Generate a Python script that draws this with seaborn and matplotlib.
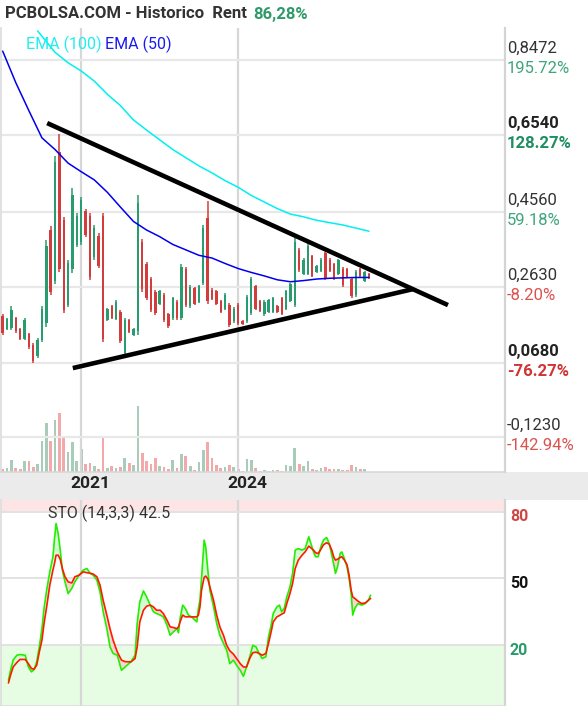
import numpy as np
import pandas as pd
import matplotlib
matplotlib.use("Agg")
import matplotlib.pyplot as plt
import matplotlib.transforms as mtransforms
from matplotlib.patches import Rectangle
import seaborn as sns

# ---------------- data ----------------
months = pd.period_range("2019-07", "2026-07", freq="M")   # monthly candles

open_ = [.190, .156, .158, .183, .155, .131, .142, .115, .086, .127,
         .170, .410, .280, .610, .435, .218, .310, .372, .380, .460,
         .445, .340, .395, .445, .179, .214, .182, .200, .095, .178,
         .140, .150, .380, .322, .284, .250, .220, .244, .193, .183,
         .226, .184, .310, .214, .260, .226, .275, .440, .257, .252,
         .227, .208, .218, .175, .218, .177, .175, .197, .265, .227,
         .193, .200, .200, .214, .234, .207, .228, .218, .358, .298,
         .298, .342, .302, .305, .350, .334, .322, .298, .311, .309,
         .285, .242, .309, .279, .298]
high = [.194, .184, .215, .186, .158, .184, .145, .120, .132, .215,
        .384, .420, .600, .657, .444, .333, .518, .454, .495, .464,
        .454, .423, .402, .454, .210, .217, .230, .204, .184, .181,
        .158, .500, .387, .328, .289, .256, .256, .248, .197, .238,
        .230, .323, .315, .269, .264, .269, .423, .485, .261, .256,
        .230, .248, .222, .212, .222, .179, .243, .289, .269, .230,
        .230, .233, .238, .217, .238, .256, .274, .390, .364, .338,
        .377, .346, .320, .338, .354, .338, .325, .336, .315, .312,
        .289, .307, .312, .305, .300]
low = [.140, .153, .153, .145, .127, .127, .104, .068, .081, .122,
       .161, .243, .271, .302, .197, .212, .300, .366, .372, .392,
       .282, .333, .312, .122, .176, .181, .179, .120, .091, .145,
       .138, .140, .251, .230, .199, .192, .217, .174, .158, .179,
       .179, .179, .212, .210, .217, .222, .269, .220, .230, .217,
       .197, .204, .161, .171, .166, .166, .171, .192, .204, .199,
       .189, .197, .197, .197, .192, .204, .225, .212, .302, .294,
       .294, .289, .300, .302, .282, .302, .282, .294, .264, .287,
       .235, .238, .289, .276, .284]
close = [.145, .180, .205, .150, .131, .178, .108, .074, .127, .208,
         .370, .250, .585, .310, .205, .325, .500, .445, .488, .398,
         .290, .415, .318, .130, .206, .184, .226, .124, .178, .148,
         .155, .480, .258, .236, .205, .196, .252, .178, .162, .234,
         .183, .316, .217, .264, .221, .265, .415, .228, .233, .221,
         .200, .244, .165, .208, .170, .168, .238, .284, .208, .202,
         .226, .230, .234, .200, .195, .252, .270, .380, .306, .334,
         .370, .293, .317, .334, .286, .305, .286, .332, .268, .290,
         .240, .303, .292, .301, .2865]
volume = [10, 11, 35, 11, 8, 32, 32, 14, 23, 92, 146, 92, 155, 177, 107, 59, 89,
          32, 68, 23, 26, 17, 8, 107, 11, 17, 11, 14, 41, 26, 20, 197, 56, 32,
          23, 41, 17, 14, 8, 35, 11, 53, 47, 17, 5, 29, 65, 89, 41, 20, 11, 14,
          20, 14, 8, 3, 38, 35, 11, 3, 5, 3, 5, 5, 3, 20, 17, 71, 23, 17, 32,
          8, 5, 11, 14, 8, 8, 8, 5, 5, 20, 14, 8, 8]

ema50 = [0.870, 0.789, 0.717, 0.647, 0.617, 0.582, 0.560, 0.539, 0.507, 0.469,
         0.432, 0.410, 0.393, 0.373, 0.359, 0.345, 0.338, 0.324, 0.311, 0.301,
         0.292, 0.282, 0.277, 0.280, 0.284, 0.286, 0.287, 0.288, 0.288]
ema50_months = months[0::3]
ema100 = [0.922, 0.867, 0.840, 0.819, 0.793, 0.759, 0.730, 0.693, 0.667, 0.642,
          0.617, 0.596, 0.575, 0.557, 0.537, 0.520, 0.499, 0.482, 0.465, 0.451,
          0.444, 0.435, 0.429, 0.423, 0.415, 0.407]
ema100_months = months[[8] + list(range(12, 85, 3))]

# hand-drawn trend lines (date as fractional year, price)
trend_upper = [(2020.35, 0.685), (2028.01, 0.217)]
trend_lower = [(2020.84, 0.055), (2027.34, 0.258)]

price_ticks = [0.8472, 0.6540, 0.4560, 0.2630, 0.0680, -0.1230]
price_labels = ["0,8472", "0,6540", "0,4560", "0,2630", "0,0680", "-0,1230"]
pct_labels = ["195.72%", "128.27%", "59.18%", "-8.20%", "-76.27%", "-142.94%"]
bold_ticks = [False, True, False, False, True, False]
year_ticks = [2021, 2024]

# stochastic (14,3,3)
sto_t = [2019.61, 2019.65, 2019.70, 2019.77, 2019.83, 2019.93, 2019.99, 2020.05, 2020.10, 2020.15,
         2020.20, 2020.25, 2020.29, 2020.34, 2020.40, 2020.46, 2020.49, 2020.52, 2020.56, 2020.60,
         2020.64, 2020.69, 2020.75, 2020.82, 2020.88, 2020.96, 2021.04, 2021.11, 2021.17, 2021.23,
         2021.30, 2021.36, 2021.42, 2021.49, 2021.55, 2021.61, 2021.69, 2021.77, 2021.84, 2021.95,
         2022.03, 2022.07, 2022.12, 2022.19, 2022.25, 2022.32, 2022.38, 2022.44, 2022.51, 2022.57,
         2022.64, 2022.70, 2022.76, 2022.83, 2022.86, 2022.89, 2022.94, 2022.99, 2023.05, 2023.11,
         2023.21, 2023.24, 2023.27, 2023.30, 2023.35, 2023.38, 2023.42, 2023.46, 2023.53, 2023.59,
         2023.65, 2023.72, 2023.78, 2023.84, 2023.91, 2023.97, 2024.04, 2024.10, 2024.16, 2024.23,
         2024.28, 2024.34, 2024.40, 2024.46, 2024.53, 2024.58, 2024.63, 2024.67, 2024.74, 2024.79,
         2024.83, 2024.88, 2024.93, 2024.99, 2025.04, 2025.09, 2025.15, 2025.22, 2025.28, 2025.31,
         2025.35, 2025.39, 2025.44, 2025.48, 2025.53, 2025.58, 2025.63, 2025.69, 2025.74, 2025.79,
         2025.83, 2025.86, 2025.90, 2025.95, 2025.98, 2026.03, 2026.08, 2026.12, 2026.16, 2026.19,
         2026.23, 2026.29, 2026.36, 2026.43, 2026.49, 2026.53]
sto_k = [4.1, 8.6, 13.2, 15.4, 15.7, 15.4, 10.1, 7.9, 8.9, 12.4,
         19.2, 27.4, 36.5, 44.7, 53.0, 59.8, 68.0, 74.8, 70.3, 62.8,
         53.8, 48.5, 43.2, 45.5, 48.5, 51.5, 53.8, 54.5, 52.3, 51.5,
         49.2, 44.0, 35.0, 27.4, 19.2, 16.2, 15.4, 8.6, 10.1, 12.4,
         15.4, 29.7, 39.5, 44.4, 41.7, 38.0, 35.0, 34.2, 33.5, 32.7,
         28.9, 24.4, 25.9, 27.4, 25.5, 32.0, 38.0, 36.5, 33.5, 32.7,
         30.4, 36.5, 40.2, 50.0, 67.3, 64.3, 53.8, 44.7, 37.2, 29.7,
         24.4, 20.7, 17.7, 11.6, 13.2, 10.9, 8.6, 5.9, 10.1, 15.4,
         19.9, 19.2, 16.2, 13.9, 14.7, 23.7, 28.9, 34.2, 37.2, 38.0,
         35.0, 36.5, 41.7, 46.2, 52.3, 62.8, 63.5, 62.8, 63.5, 65.8,
         68.8, 65.8, 62.0, 59.8, 59.8, 64.3, 67.3, 68.5, 65.8, 60.5,
         56.0, 52.3, 55.3, 61.3, 62.0, 59.0, 55.3, 50.0, 43.2, 33.5,
         36.5, 38.7, 38.0, 38.7, 40.2, 42.5]
sto_d = [2.9, 6.4, 10.1, 12.1, 13.5, 13.5, 11.6, 9.4, 9.1, 10.9,
         16.9, 22.2, 29.7, 37.2, 47.0, 53.8, 56.8, 60.5, 60.5, 58.6,
         54.5, 50.8, 48.5, 48.0, 50.8, 51.5, 53.0, 52.6, 52.4, 52.0,
         50.8, 47.0, 40.2, 33.5, 27.4, 22.2, 16.9, 13.2, 12.5, 12.4,
         13.9, 19.2, 30.4, 35.7, 37.5, 38.0, 37.2, 35.7, 35.7, 34.2,
         31.2, 28.2, 27.9, 27.4, 28.2, 30.4, 33.5, 32.7, 32.7, 32.7,
         32.7, 33.5, 37.2, 44.7, 50.5, 51.1, 49.8, 46.2, 40.2, 33.5,
         28.2, 24.4, 19.9, 17.4, 15.9, 13.9, 11.6, 10.1, 10.1, 14.4,
         16.5, 16.8, 16.2, 15.4, 16.2, 20.7, 25.9, 30.4, 32.7, 33.3,
         33.9, 34.5, 38.7, 43.2, 47.7, 54.5, 58.3, 60.5, 62.0, 63.1,
         64.6, 63.8, 62.8, 61.6, 61.3, 63.1, 65.2, 66.1, 65.5, 62.8,
         59.5, 58.3, 58.7, 59.5, 59.8, 58.3, 56.3, 51.5, 44.7, 41.7,
         41.0, 39.8, 38.7, 39.0, 40.2, 41.0]
sto_levels = [80, 50, 20]
sto_level_colors = ["#d24545", "#111111", "#2a9a6c"]

# ---------------- styling ----------------
sns.set_theme(style="white")
plt.rcParams['font.family'] = ['Roboto', 'DejaVu Sans']

GREEN = "#289c6e"
RED = "#d33c3c"
VGREEN = "#a9ccba"
VRED = "#f3a9a9"
GRID_H = "#e8e8e8"
GRID_V = "#d7d7d7"

W, H = 588, 706
def fx(px): return px / W
def fy(py): return 1 - py / H

fig = plt.figure(figsize=(W / 100, H / 100), dpi=100)
fig.patch.set_facecolor("white")

# gray date band
fig.add_artist(Rectangle((0, fy(500)), 1, fy(472) - fy(500), transform=fig.transFigure,
                         facecolor="#ebebeb", edgecolor="none", zorder=0))

rect_price = [fx(1), fy(472), fx(505) - fx(1), fy(28) - fy(472)]
vax = fig.add_axes(rect_price)
ax = fig.add_axes(rect_price)
vax.set_zorder(0)
ax.set_zorder(1)
ax.patch.set_alpha(0)
axs = fig.add_axes([fx(1), fy(706), fx(505) - fx(1), fy(500) - fy(706)])

xmin, xmax = 2019.4675, 2029.10
t = np.array(months.year + (months.month - 1) / 12.0, dtype=float)

# ---- volume ----
vt = t[:len(volume)]
vcol = [VGREEN if c >= o else VRED for o, c in zip(open_[:len(volume)], close[:len(volume)])]
vax.bar(vt, volume, width=0.052, color=vcol, linewidth=0)
vax.set_ylim(0, max(volume) * 6.76)
vax.set_xlim(xmin, xmax)
vax.axis("off")

# ---- price panel ----
ax.set_xlim(xmin, xmax)
ax.set_ylim(-0.2122, 0.9295)
ax.set_yticks(price_ticks)
ax.set_xticks(year_ticks)
ax.grid(axis="y", color=GRID_H, lw=1.6)
ax.grid(axis="x", color=GRID_V, lw=1.6)
ax.tick_params(length=0, labelleft=False, labelbottom=False)
ax.spines["top"].set_visible(False)
ax.spines["left"].set_color("#dddddd")
ax.spines["right"].set_color("#d4d4d4")
ax.spines["right"].set_linewidth(1.6)
ax.spines["bottom"].set_color("#d8d8d8")
ax.spines["bottom"].set_linewidth(1.2)

ccol = [GREEN if c >= o else RED for o, c in zip(open_, close)]
ax.vlines(t, low, high, colors=ccol, lw=1.1, zorder=3)
body_lo = np.minimum(open_, close)
body_h = np.abs(np.array(close) - np.array(open_))
ax.bar(t, body_h, bottom=body_lo, width=0.046, color=ccol, linewidth=0, zorder=3)

e50 = pd.DataFrame({"t": ema50_months.year + (ema50_months.month - 1) / 12.0, "v": ema50})
e100 = pd.DataFrame({"t": ema100_months.year + (ema100_months.month - 1) / 12.0, "v": ema100})
sns.lineplot(data=e100, x="t", y="v", ax=ax, color="#00f0f0", lw=1.1, errorbar=None, zorder=4)
sns.lineplot(data=e50, x="t", y="v", ax=ax, color="#0000ee", lw=1.1, errorbar=None, zorder=4)
ax.set_xlabel("")
ax.set_ylabel("")

for seg in (trend_upper, trend_lower):
    ax.plot([seg[0][0], seg[1][0]], [seg[0][1], seg[1][1]], color="black", lw=3.3,
            solid_capstyle="butt", zorder=5)

trans_r = mtransforms.blended_transform_factory(ax.transAxes, ax.transData)
for v, lab, pc, b in zip(price_ticks, price_labels, pct_labels, bold_ticks):
    pos = not pc.startswith("-")
    if b:
        pcol = "#1e8f60" if pos else "#cf3535"
        lcol = "#222222"
    else:
        pcol = "#3ea67b" if pos else "#d9534f"
        lcol = "#333333"
    up = mtransforms.offset_copy(trans_r, fig=fig, x=2, y=12, units="dots")
    dn = mtransforms.offset_copy(trans_r, fig=fig, x=2, y=-8, units="dots")
    ax.text(1, v, lab, transform=up, ha="left", va="center", fontsize=12,
            color=lcol, fontweight="bold" if b else "normal")
    ax.text(1, v, pc, transform=dn, ha="left", va="center", fontsize=12,
            color=pcol, fontweight="bold" if b else "normal")

# year labels in the date band
trans_y = mtransforms.blended_transform_factory(ax.transData, fig.transFigure)
trans_y = mtransforms.offset_copy(trans_y, fig=fig, x=9, y=0, units="dots")
for yr in year_ticks:
    ax.text(yr, fy(484), str(yr), transform=trans_y, ha="center", va="center",
            fontsize=12.5, fontweight="bold", color="#222222")

# header + legend
fig.text(fx(5), fy(14), "PCBOLSA.COM - Historico  Rent", ha="left", va="center",
         fontsize=12, fontweight="bold", color="#333333")
fig.text(fx(253), fy(14), "86,28%", ha="left", va="center", fontsize=12,
         fontweight="bold", color="#2e9a6a")
fig.text(fx(26), fy(44), "EMA (100)", ha="left", va="center", fontsize=11.5, color="#22eeee")
fig.text(fx(105), fy(44), "EMA (50)", ha="left", va="center", fontsize=11.5, color="#1a1aee")

# ---------------- stochastic panel ----------------
axs.set_xlim(xmin, xmax)
axs.set_ylim(-7.5, 85.4)
axs.axhspan(80, 100, color="#fde5e5", lw=0, zorder=0.2)
axs.axhspan(-20, 20, color="#e7fde3", lw=0, zorder=0.2)
axs.set_yticks(sto_levels)
axs.set_xticks(year_ticks)
axs.grid(axis="y", color="#e2e2e2", lw=1.4)
axs.grid(axis="x", color=GRID_V, lw=1.6)
axs.tick_params(length=0, labelleft=False, labelbottom=False)
axs.spines["top"].set_visible(False)
axs.spines["left"].set_color("#dddddd")
axs.spines["right"].set_color("#d4d4d4")
axs.spines["right"].set_linewidth(1.6)
axs.spines["bottom"].set_color("#dddddd")

st = np.array(sto_t)
k = np.array(sto_k)
d = np.array(sto_d)
axs.fill_between(st, k, d, where=k >= d, interpolate=True, color="#d2fcd2", lw=0, zorder=2)
axs.fill_between(st, k, d, where=k < d, interpolate=True, color="#fbd3d3", lw=0, zorder=2)
sdf = pd.DataFrame({"t": st, "k": k, "d": d})
sns.lineplot(data=sdf, x="t", y="k", ax=axs, color="#22ee00", lw=1.2, errorbar=None, zorder=3)
sns.lineplot(data=sdf, x="t", y="d", ax=axs, color="#ff1a00", lw=1.2, errorbar=None, zorder=3)
axs.set_xlabel("")
axs.set_ylabel("")

trans_s = mtransforms.blended_transform_factory(axs.transAxes, axs.transData)
trans_s = mtransforms.offset_copy(trans_s, fig=fig, x=5, y=-5, units="dots")
for lv, c in zip(sto_levels, sto_level_colors):
    axs.text(1, lv, str(lv), transform=trans_s, ha="left", va="center", fontsize=11.5,
             fontweight="bold", color=c)

fig.text(fx(48), fy(513), "STO (14,3,3) 42.5", ha="left", va="center", fontsize=11.5,
         color="#333333")

fig.savefig("out.png", dpi=100, facecolor="white")
